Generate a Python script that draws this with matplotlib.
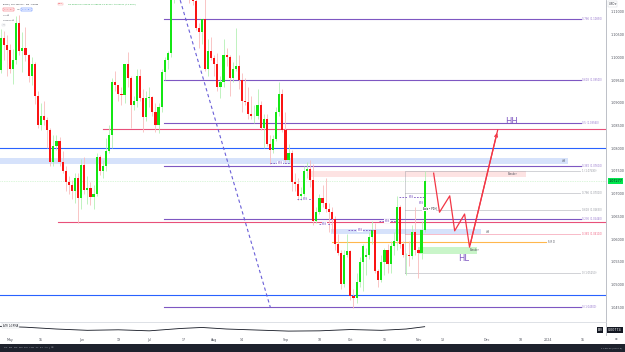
import matplotlib
matplotlib.use("Agg")
import matplotlib.pyplot as plt
from matplotlib.patches import Rectangle

# EUR/USD daily, 24 Apr 2023 -> 3 Nov 2023 (bar index 0 = 1 May)
first_bar = -5
opens = [
    1.0988, 1.1048, 1.0972, 1.1043, 1.1028,
    # May
    1.1017, 1.0974, 1.0995, 1.1075, 1.1015, 1.1020, 1.1005, 1.0960, 1.0985, 1.0915, 1.0850, 1.0870,
    1.0862, 1.0840, 1.0770, 1.0805, 1.0815, 1.0770, 1.0750, 1.0725, 1.0720, 1.0705, 1.0735,
    # Jun
    1.0690, 1.0762, 1.0708, 1.0712, 1.0692, 1.0700, 1.0780, 1.0750, 1.0760, 1.0793, 1.0830, 1.0945,
    1.0940, 1.0920, 1.0918, 1.0985, 1.0955, 1.0895, 1.0905, 1.0960, 1.0910, 1.0868,
    # Jul
    1.0910, 1.0912, 1.0880, 1.0852, 1.0890, 1.0968, 1.0995, 1.1010, 1.1130, 1.1225, 1.1230, 1.1235,
    1.1225, 1.1200, 1.1130, 1.1125, 1.1065, 1.1055, 1.1085, 1.0975, 1.1015,
    # Aug
    1.0998, 1.0985, 1.0935, 1.0945, 1.1005, 1.1000, 1.0955, 1.0975, 1.0980, 1.0950, 1.0905, 1.0902,
    1.0875, 1.0870, 1.0872, 1.0895, 1.0845, 1.0865, 1.0810, 1.0795, 1.0820, 1.0880, 1.0920,
    # Sep
    1.0840, 1.0775, 1.0790, 1.0725, 1.0722, 1.0695, 1.0700, 1.0750, 1.0755, 1.0730, 1.0640, 1.0660,
    1.0690, 1.0680, 1.0665, 1.0660, 1.0645, 1.0590, 1.0570, 1.0500, 1.0565,
    # Oct
    1.0573, 1.0475, 1.0470, 1.0505, 1.0550, 1.0560, 1.0565, 1.0605, 1.0620, 1.0530, 1.0510, 1.0550,
    1.0575, 1.0545, 1.0585, 1.0595, 1.0670, 1.0590, 1.0565, 1.0565, 1.0562, 1.0615,
    # Nov
    1.0575, 1.0570, 1.0620,
]
highs = [
    1.1050, 1.1066, 1.1063, 1.1058, 1.1050,
    1.1030, 1.1018, 1.1092, 1.1093, 1.1055, 1.1068, 1.1008, 1.1000, 1.0990, 1.0925, 1.0900, 1.0903,
    1.0868, 1.0845, 1.0830, 1.0830, 1.0825, 1.0793, 1.0760, 1.0738, 1.0730, 1.0745, 1.0745,
    1.0777, 1.0780, 1.0738, 1.0725, 1.0718, 1.0790, 1.0785, 1.0775, 1.0823, 1.0850, 1.0955, 1.0970,
    1.0940, 1.0935, 1.0985, 1.1012, 1.0960, 1.0915, 1.0975, 1.0975, 1.0930, 1.0925,
    1.0935, 1.0915, 1.0900, 1.0900, 1.0975, 1.1000, 1.1015, 1.1135, 1.1230, 1.1245, 1.1245, 1.1275,
    1.1230, 1.1215, 1.1145, 1.1130, 1.1075, 1.1085, 1.1150, 1.1040, 1.1045,
    1.1005, 1.1010, 1.0960, 1.1040, 1.1020, 1.1005, 1.0990, 1.1065, 1.1005, 1.0965, 1.0955, 1.0935,
    1.0915, 1.0895, 1.0930, 1.0905, 1.0875, 1.0875, 1.0830, 1.0830, 1.0890, 1.0945, 1.0930,
    1.0880, 1.0810, 1.0795, 1.0745, 1.0735, 1.0715, 1.0760, 1.0770, 1.0775, 1.0765, 1.0670, 1.0700,
    1.0720, 1.0735, 1.0680, 1.0670, 1.0650, 1.0610, 1.0575, 1.0575, 1.0610,
    1.0575, 1.0490, 1.0525, 1.0560, 1.0590, 1.0580, 1.0615, 1.0640, 1.0635, 1.0535, 1.0565, 1.0580,
    1.0590, 1.0595, 1.0615, 1.0695, 1.0675, 1.0595, 1.0570, 1.0595, 1.0630, 1.0670,
    1.0580, 1.0640, 1.0750,
]
lows = [
    1.0975, 1.0965, 1.0966, 1.0995, 1.0960,
    1.0966, 1.0942, 1.0985, 1.1005, 1.0968, 1.0993, 1.0945, 1.0940, 1.0898, 1.0845, 1.0840, 1.0850,
    1.0800, 1.0760, 1.0760, 1.0795, 1.0760, 1.0745, 1.0705, 1.0700, 1.0688, 1.0680, 1.0635,
    1.0665, 1.0700, 1.0676, 1.0675, 1.0665, 1.0695, 1.0740, 1.0735, 1.0750, 1.0790, 1.0800, 1.0925,
    1.0905, 1.0895, 1.0900, 1.0935, 1.0845, 1.0885, 1.0890, 1.0905, 1.0835, 1.0860,
    1.0890, 1.0870, 1.0835, 1.0833, 1.0880, 1.0950, 1.0975, 1.1000, 1.1120, 1.1205, 1.1220, 1.1200,
    1.1190, 1.1120, 1.1115, 1.1060, 1.1020, 1.1030, 1.0970, 1.0960, 1.0995,
    1.0960, 1.0925, 1.0910, 1.0935, 1.0980, 1.0915, 1.0945, 1.0970, 1.0930, 1.0880, 1.0895, 1.0865,
    1.0865, 1.0855, 1.0865, 1.0840, 1.0800, 1.0805, 1.0765, 1.0790, 1.0815, 1.0870, 1.0835,
    1.0770, 1.0770, 1.0705, 1.0705, 1.0685, 1.0685, 1.0695, 1.0735, 1.0715, 1.0630, 1.0635, 1.0655,
    1.0670, 1.0660, 1.0615, 1.0615, 1.0575, 1.0565, 1.0490, 1.0495, 1.0560,
    1.0465, 1.0448, 1.0460, 1.0495, 1.0485, 1.0520, 1.0555, 1.0590, 1.0525, 1.0495, 1.0505, 1.0520,
    1.0525, 1.0525, 1.0565, 1.0575, 1.0580, 1.0560, 1.0520, 1.0540, 1.0555, 1.0565,
    1.0515, 1.0555, 1.0615,
]
closes = [
    1.1048, 1.0972, 1.1043, 1.1028, 1.1017,
    1.0974, 1.0995, 1.1075, 1.1015, 1.1020, 1.1005, 1.0960, 1.0985, 1.0915, 1.0850, 1.0870, 1.0862,
    1.0840, 1.0770, 1.0805, 1.0815, 1.0770, 1.0750, 1.0725, 1.0720, 1.0705, 1.0735, 1.0690,
    1.0762, 1.0708, 1.0712, 1.0692, 1.0700, 1.0780, 1.0750, 1.0760, 1.0793, 1.0830, 1.0945, 1.0940,
    1.0920, 1.0918, 1.0985, 1.0955, 1.0895, 1.0905, 1.0960, 1.0910, 1.0868, 1.0910,
    1.0912, 1.0880, 1.0852, 1.0890, 1.0968, 1.0995, 1.1010, 1.1130, 1.1225, 1.1230, 1.1235, 1.1225,
    1.1200, 1.1130, 1.1125, 1.1065, 1.1055, 1.1085, 1.0975, 1.1015, 1.0998,
    1.0985, 1.0935, 1.0945, 1.1005, 1.1000, 1.0955, 1.0975, 1.0980, 1.0950, 1.0905, 1.0902, 1.0875,
    1.0870, 1.0872, 1.0895, 1.0845, 1.0865, 1.0810, 1.0795, 1.0820, 1.0880, 1.0920, 1.0840,
    1.0775, 1.0790, 1.0725, 1.0722, 1.0695, 1.0700, 1.0750, 1.0755, 1.0730, 1.0640, 1.0660, 1.0690,
    1.0680, 1.0665, 1.0660, 1.0645, 1.0590, 1.0570, 1.0500, 1.0565, 1.0573,
    1.0475, 1.0470, 1.0505, 1.0550, 1.0585, 1.0565, 1.0605, 1.0620, 1.0530, 1.0510, 1.0550, 1.0575,
    1.0545, 1.0585, 1.0595, 1.0670, 1.0590, 1.0565, 1.0565, 1.0562, 1.0615, 1.0575,
    1.0570, 1.0620, 1.07277,
]

# drawn levels (price) and their start/end bar
fib_names = ['0.786', '0.618', '0.5', '0.382', '0.236', '0']
fib_prices = [1.1085, 1.0950, 1.0856, 1.0761, 1.0644, 1.0450]
fib2_names = ['1', '0.786', '0.618', '0.382', '0']
fib2_prices = [1.0749, 1.0701, 1.0663, 1.0611, 1.0525]

# projected path (bar, price)
path_bar = [136.9, 138.8, 142.1, 143.7, 146.9, 148.5, 157.6]
path_price = [1.0745, 1.0659, 1.0695, 1.0618, 1.0655, 1.0582, 1.0840]

# BOS marks: start bar, end bar, price
bos_start = [84.1, 92.9, 99.7, 109.1, 119.1, 125.6]
bos_end = [90.6, 97.7, 103.6, 117.2, 124.6, 133.7]
bos_price = [1.0767, 1.0688, 1.0633, 1.0620, 1.0640, 1.0693]

# ATR in the lower pane, read at a few bars
atr_bar = [-5, 5, 15, 25, 35, 45, 55, 62, 70, 80, 90, 100, 110, 120, 128, 134]
atr_val = [0.0079, 0.0075, 0.0068, 0.0063, 0.0065, 0.0061, 0.0070, 0.0074, 0.0068, 0.0064,
           0.0060, 0.0061, 0.0066, 0.0063, 0.0068, 0.0077]

tick_bars = [0, 10, 23, 35, 45, 56, 66, 75, 89, 100, 110, 121, 132, 140, 154, 165, 174, 185]
tick_labels = ['May', '15', 'Jun', '19', 'Jul', '17', 'Aug', '14', 'Sep', '18', 'Oct', '16',
               'Nov', '13', 'Dec', '18', '2024', '15']

GREEN, RED = '#14e614', '#fa1414'
GREEN_W, RED_W = '#b4f0b4', '#f9bcbc'
PURPLE = '#7e57c2'
BLUE = '#2962ff'
TXT = '#50535e'

W, H = 625, 352
fig = plt.figure(figsize=(6.25, 3.52), dpi=100)
fig.patch.set_facecolor('white')


def fx(px):
    return px / W


def fy(py):
    return 1 - py / H


ax = fig.add_axes([0, fy(321), fx(606), 321 / H])
X0, X1 = -3.24, 192.6
ax.set_xlim(X0, X1)
ax.set_ylim(1.04194, 1.11264)

bars = list(range(first_bar, first_bar + len(closes)))
up = [c >= o for o, c in zip(opens, closes)]

# background zones
ax.add_patch(Rectangle((X0, 1.0765), 180.3 - X0, 0.0013, color='#d6e2fb', lw=0, zorder=1))
ax.text(178.9, 1.07715, '##', fontsize=1.8, color=TXT, ha='center', va='center', zorder=5)
ax.add_patch(Rectangle((97.1, 1.0736), 166.7 - 97.1, 0.0013, color='#fde3e3', lw=0, zorder=1))
ax.text(162.5, 1.07425, 'Breaker', fontsize=1.8, color=TXT, ha='center', va='center', zorder=5)
ax.add_patch(Rectangle((103.6, 1.0611), 152.1 - 103.6, 0.0011, color='#d6e2fb', lw=0, zorder=1))
ax.text(153.6, 1.06165, '##', fontsize=1.8, color=TXT, ha='left', va='center', zorder=5)
ax.add_patch(Rectangle((132, 1.0567), 150.8 - 132, 0.0015, color='#c9f5c9', lw=0, zorder=1))
ax.text(150.0, 1.0576, 'Breaker', fontsize=1.8, color=TXT, ha='center', va='center', zorder=6)

# full-width and partial horizontal lines
ax.plot([X0, X1], [1.0800, 1.0800], color=BLUE, lw=0.8, zorder=2)
ax.plot([X0, X1], [1.0477, 1.0477], color=BLUE, lw=0.8, zorder=2)
ax.plot([30.1, X1], [1.0842, 1.0842], color='#e8507a', lw=0.8, zorder=2)
ax.plot([15.5, X1], [1.0637, 1.0637], color='#e8507a', lw=0.8, zorder=2)
ax.plot([103.9, 173.1], [1.0593, 1.0593], color='#ffb74d', lw=0.8, zorder=2)
ax.text(174.0, 1.0593, 'S/R D', fontsize=1.8, color=TXT, ha='left', va='center')
ax.plot([X0, X1], [closes[-1], closes[-1]], color='#b8efb8', lw=0.5, ls=(0, (1, 1.5)), zorder=2)

# fib from the July high to the October low
for name, p in zip(fib_names, fib_prices):
    ax.plot([49.8, 184.5], [p, p], color=PURPLE, lw=0.8, zorder=2)
    ax.text(184.8, p, f'{name} ({p:.5f})', fontsize=1.8, color='#9575cd', ha='left', va='center')

# fib on the last swing
for name, p in zip(fib2_names, fib2_prices):
    col = '#f06080' if name == '0.382' else '#9598a1'
    ax.plot([127.8, 184.5], [p, p], color=col, lw=0.6, ls=(0, (1.2, 1.2)), zorder=2)
    ax.text(184.8, p, f'{name} ({p:.5f})', fontsize=1.8, color=col, ha='left', va='center')
ax.plot([127.8, 127.8], [fib2_prices[-1], fib2_prices[0]], color='#9598a1', lw=0.6,
        ls=(0, (1.2, 1.2)), zorder=2)

# dashed trendline
ax.plot([55.0, 84.1], [1.1126, 1.0450], color='#6a5fd8', lw=0.8, ls=(0, (3, 2.5)), zorder=2)

# candles
ax.vlines(bars, lows, highs, colors=[GREEN_W if u else RED_W for u in up], lw=0.6, zorder=3)
ax.bar(bars, [max(abs(c - o), 0.00008) for o, c in zip(opens, closes)],
       bottom=[min(o, c) for o, c in zip(opens, closes)], width=0.7,
       color=[GREEN if u else RED for u in up], linewidth=0, zorder=4)

# BOS marks
for b0, b1, p in zip(bos_start, bos_end, bos_price):
    ax.plot([b0, b1], [p, p], color=PURPLE, lw=0.6, ls=(0, (2, 1.5)), zorder=5)
    ax.text((b0 + b1) / 2, p, 'BOS', fontsize=1.8, color=PURPLE, ha='center', va='center',
            zorder=6, bbox=dict(facecolor='white', edgecolor='none', pad=0.2))
ax.text(132.0, 1.0679, 'BOS', fontsize=1.8, color=PURPLE, ha='left', va='center', zorder=6)
ax.text(133.3, 1.0666, 'Asia \u2022 PDH', fontsize=1.8, color='#131722', ha='left', va='center',
        zorder=6, bbox=dict(facecolor='white', edgecolor='none', pad=0.2))

# projected move
ax.plot(path_bar, path_price, color='#f23645', lw=0.9, zorder=7)
ax.annotate('', xy=(path_bar[-1], path_price[-1]), xytext=(path_bar[-2], path_price[-2]),
            arrowprops=dict(arrowstyle='->', color='#f23645', lw=0.9, mutation_scale=5), zorder=7)
ax.text(162.1, 1.0858, 'HH', fontsize=6, color=PURPLE, ha='center', va='center')
ax.text(146.6, 1.0557, 'HL', fontsize=6, color=PURPLE, ha='center', va='center', zorder=7)

# right price scale
ticks = [1.045 + 0.005 * k for k in range(14)]
ax.yaxis.tick_right()
ax.set_yticks(ticks)
ax.set_yticklabels([f'{t:.5f}' for t in ticks], fontsize=2.4, color=TXT)
ax.tick_params(axis='y', length=0, pad=3)
ax.set_xticks([])
for s in ['top', 'left', 'bottom']:
    ax.spines[s].set_visible(False)
ax.spines['right'].set_color('#b2b5be')
ax.spines['right'].set_linewidth(0.6)
ax.text(1.004, closes[-1], f'{closes[-1]:.5f}', transform=ax.get_yaxis_transform(),
        fontsize=2.4, color='#131722', ha='left', va='center',
        bbox=dict(facecolor='#00e64d', edgecolor='none', pad=0.6))

# lower pane
ind = fig.add_axes([0, fy(335), fx(606), 13 / H])
ind.plot(atr_bar, atr_val, color='#131722', lw=0.6)
ind.set_xlim(X0, X1)
ind.set_ylim(0.0045, 0.0095)
ind.set_yticks([])
ind.set_xticks(tick_bars)
ind.set_xticklabels(tick_labels, fontsize=2.3, color=TXT)
ind.tick_params(axis='x', length=0, pad=2.5)
for s in ['left', 'bottom']:
    ind.spines[s].set_visible(False)
ind.spines['top'].set_color('#d1d4dc')
ind.spines['top'].set_linewidth(0.5)
ind.spines['right'].set_color('#b2b5be')
ind.spines['right'].set_linewidth(0.6)
ind.text(0.005, 0.7, 'ATR 14 RMA', transform=ind.transAxes, fontsize=1.8, color='#131722',
         va='center', bbox=dict(facecolor='white', edgecolor='#d1d4dc', lw=0.3, pad=0.4))
fig.text(fx(600), fy(330), 'ATR', fontsize=1.8, color='white', ha='center', va='center',
         bbox=dict(facecolor='#131722', edgecolor='none', pad=0.5))
fig.text(fx(615), fy(330), '0.00774', fontsize=2.3, color='white', ha='center', va='center',
         bbox=dict(facecolor='#131722', edgecolor='none', pad=0.6))
fig.text(fx(616), fy(339), '\u2299', fontsize=2.3, color=TXT, ha='center', va='center')

# header
last = len(closes) - 1
fig.text(fx(3), fy(4), 'Euro / U.S. Dollar \u00b7 1D \u00b7 FXCM', fontsize=1.7, color='#131722',
         va='center')
fig.text(fx(58), fy(4), 'MKT', fontsize=1.6, color='#f23645', va='center',
         bbox=dict(facecolor='white', edgecolor='#f7a1a1', lw=0.3, pad=0.3))
chg = closes[last] - closes[last - 1]
fig.text(fx(68), fy(4), f'O{opens[last]:.5f} H{highs[last]:.5f} L{lows[last]:.5f} '
         f'C{closes[last]:.5f} +{chg:.5f} (+{chg / closes[last - 1] * 100:.2f}%)',
         fontsize=1.6, color='#22ab3c', va='center')
fig.text(fx(4), fy(9.5), '1.07265', fontsize=1.7, color='#f23645', va='center',
         bbox=dict(facecolor='white', edgecolor='#f23645', lw=0.3, pad=0.5))
fig.text(fx(17), fy(9.5), '0.0', fontsize=1.6, color=TXT, va='center')
fig.text(fx(22), fy(9.5), '1.07280', fontsize=1.7, color=BLUE, va='center',
         bbox=dict(facecolor='white', edgecolor=BLUE, lw=0.3, pad=0.5))
fig.text(fx(3), fy(15), 'Vol \u2298', fontsize=1.6, color=TXT, va='center')
fig.text(fx(3), fy(20), 'Session \u2298', fontsize=1.6, color=TXT, va='center')
fig.text(fx(3), fy(25), '\u2303', fontsize=1.6, color=TXT, va='center',
         bbox=dict(facecolor='white', edgecolor='#d1d4dc', lw=0.3, pad=0.4))
fig.text(fx(609), fy(4), 'USD \u25be', fontsize=1.8, color='#131722', va='center',
         bbox=dict(facecolor='white', edgecolor='#d1d4dc', lw=0.3, pad=0.4))

# bottom toolbar
fig.add_artist(Rectangle((0, 0), 1, 8.5 / H, transform=fig.transFigure, color='#1e222d', lw=0))
fig.text(fx(4), fy(348), '1D  5D  1M  3M  6M  YTD  1Y  5Y  All  |  \u2637', fontsize=1.7,
         color='#b2b5be', va='center')
fig.text(fx(622), fy(348), '17:08:34 (UTC+8)', fontsize=1.7, color='#b2b5be', va='center',
         ha='right')

fig.savefig('out.png', dpi=100, facecolor='white')
